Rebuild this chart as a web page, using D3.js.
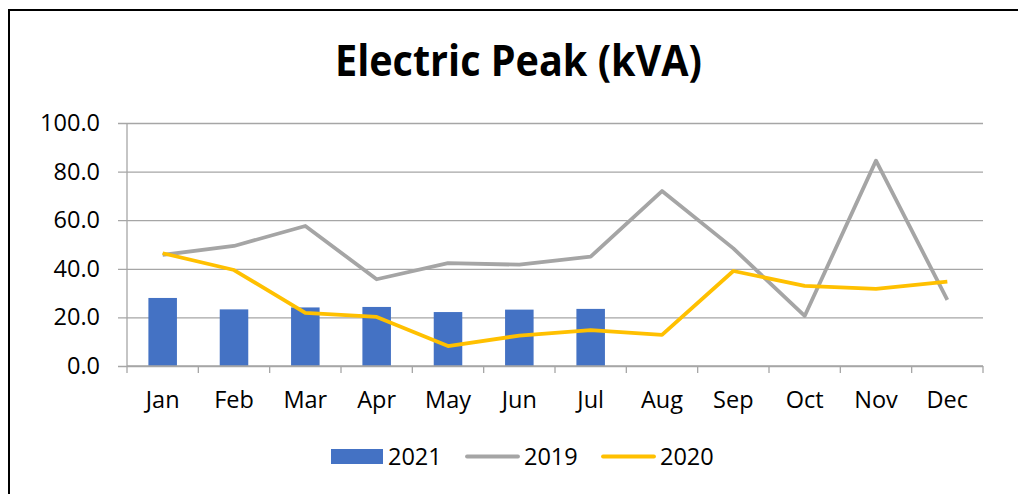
<!DOCTYPE html>
<html>
<head>
<meta charset="utf-8">
<script src="https://cdn.jsdelivr.net/npm/d3@7"></script>
<style>
  body { margin: 0; background: #fff; }
  text { font-family: "Open Sans", "Noto Sans", sans-serif; fill: #000; }
</style>
</head>
<body>
<div class="chart"></div>
<script>
'use strict';

var months = ['Jan', 'Feb', 'Mar', 'Apr', 'May', 'Jun', 'Jul', 'Aug', 'Sep', 'Oct', 'Nov', 'Dec'];
var peak2021 = [28.0, 23.3, 24.1, 24.3, 22.2, 23.2, 23.5];
var peak2019 = [45.7, 49.4, 57.6, 35.7, 42.3, 41.7, 45.0, 72.0, 48.4, 20.6, 84.5, 27.2];
var peak2020 = [46.4, 39.5, 21.9, 20.2, 8.2, 12.5, 14.8, 12.8, 39.1, 33.0, 31.7, 34.7];
var yTicks = [0, 20, 40, 60, 80, 100];

var W = 1018, H = 494;
var margin = {top: 123, right: 35, bottom: 128, left: 127},
  width = W - margin.left - margin.right,
  height = H - margin.top - margin.bottom;

var svg = d3.select('.chart').append('svg')
  .attr('width', W)
  .attr('height', H);

// outer frame (right and bottom edges fall outside the picture)
svg.append('rect')
  .attr('x', 9).attr('y', 10)
  .attr('width', W + 20).attr('height', H + 20)
  .attr('fill', 'none')
  .attr('stroke', '#000')
  .attr('stroke-width', 2);

svg.append('text')
  .attr('x', 335).attr('y', 76)
  .attr('textLength', 367)
  .attr('lengthAdjust', 'spacingAndGlyphs')
  .style('font-size', '43px')
  .style('font-weight', 'bold')
  .text('Electric Peak (kVA)');

var g = svg.append('g')
  .attr('transform', 'translate(' + margin.left + ',' + margin.top + ')');

var x = d3.scaleBand()
  .domain(months)
  .range([0, width])
  .paddingInner(0)
  .paddingOuter(0);

var y = d3.scaleLinear()
  .domain([0, 100])
  .range([height, 0]);

// grid lines with left tick stubs
var yAxis = g.append('g')
  .call(d3.axisLeft(y).tickValues(yTicks).tickSize(-width).tickPadding(27)
    .tickFormat(d3.format('.1f')));
yAxis.select('.domain').remove();
yAxis.selectAll('.tick line')
  .attr('x1', -9)
  .attr('stroke', '#a6a6a6')
  .attr('stroke-width', 1.3);
yAxis.selectAll('.tick text')
  .style('font-size', '23.5px')
  .attr('font-family', null);

// left axis line
g.append('line')
  .attr('x1', 0).attr('x2', 0)
  .attr('y1', 0).attr('y2', height)
  .attr('stroke', '#a6a6a6')
  .attr('stroke-width', 1.3);

// bars
var barW = x.bandwidth() / 2.5;
g.selectAll('.bar')
  .data(peak2021)
  .enter().append('rect')
  .attr('class', 'bar')
  .attr('x', function(d, i) { return x(months[i]) + (x.bandwidth() - barW) / 2; })
  .attr('width', barW)
  .attr('y', function(d) { return y(d); })
  .attr('height', function(d) { return height - y(d); })
  .attr('fill', '#4472c4');

// bottom axis with ticks between categories
var xAxis = g.append('g')
  .attr('transform', 'translate(0,' + height + ')');
xAxis.append('line')
  .attr('x1', 0).attr('x2', width)
  .attr('stroke', '#a6a6a6')
  .attr('stroke-width', 1.3);
xAxis.selectAll('.tk')
  .data(d3.range(months.length + 1))
  .enter().append('line')
  .attr('class', 'tk')
  .attr('x1', function(i) { return i * x.step(); })
  .attr('x2', function(i) { return i * x.step(); })
  .attr('y1', 0).attr('y2', 7)
  .attr('stroke', '#a6a6a6')
  .attr('stroke-width', 1.3);
xAxis.selectAll('.lbl')
  .data(months)
  .enter().append('text')
  .attr('class', 'lbl')
  .attr('x', function(d) { return x(d) + x.bandwidth() / 2; })
  .attr('y', 42)
  .attr('text-anchor', 'middle')
  .style('font-size', '23.5px')
  .text(function(d) { return d; });

var line = d3.line()
  .x(function(d, i) { return x(months[i]) + x.bandwidth() / 2; })
  .y(function(d) { return y(d); });

g.append('path')
  .datum(peak2019)
  .attr('d', line)
  .attr('fill', 'none')
  .attr('stroke', '#a5a5a5')
  .attr('stroke-width', 3.8)
  .attr('stroke-linejoin', 'round');

g.append('path')
  .datum(peak2020)
  .attr('d', line)
  .attr('fill', 'none')
  .attr('stroke', '#ffc000')
  .attr('stroke-width', 3.8)
  .attr('stroke-linejoin', 'round');

// legend
var legend = svg.append('g');
legend.append('rect')
  .attr('x', 331).attr('y', 449)
  .attr('width', 52).attr('height', 15)
  .attr('fill', '#4472c4');
legend.append('text')
  .attr('x', 388).attr('y', 465)
  .style('font-size', '23.5px')
  .text('2021');
legend.append('line')
  .attr('x1', 467).attr('x2', 518)
  .attr('y1', 456.5).attr('y2', 456.5)
  .attr('stroke', '#a5a5a5')
  .attr('stroke-width', 3.8)
  .attr('stroke-linecap', 'round');
legend.append('text')
  .attr('x', 524).attr('y', 465)
  .style('font-size', '23.5px')
  .text('2019');
legend.append('line')
  .attr('x1', 603).attr('x2', 654)
  .attr('y1', 456.5).attr('y2', 456.5)
  .attr('stroke', '#ffc000')
  .attr('stroke-width', 3.8)
  .attr('stroke-linecap', 'round');
legend.append('text')
  .attr('x', 660).attr('y', 465)
  .style('font-size', '23.5px')
  .text('2020');
</script>
</body>
</html>
